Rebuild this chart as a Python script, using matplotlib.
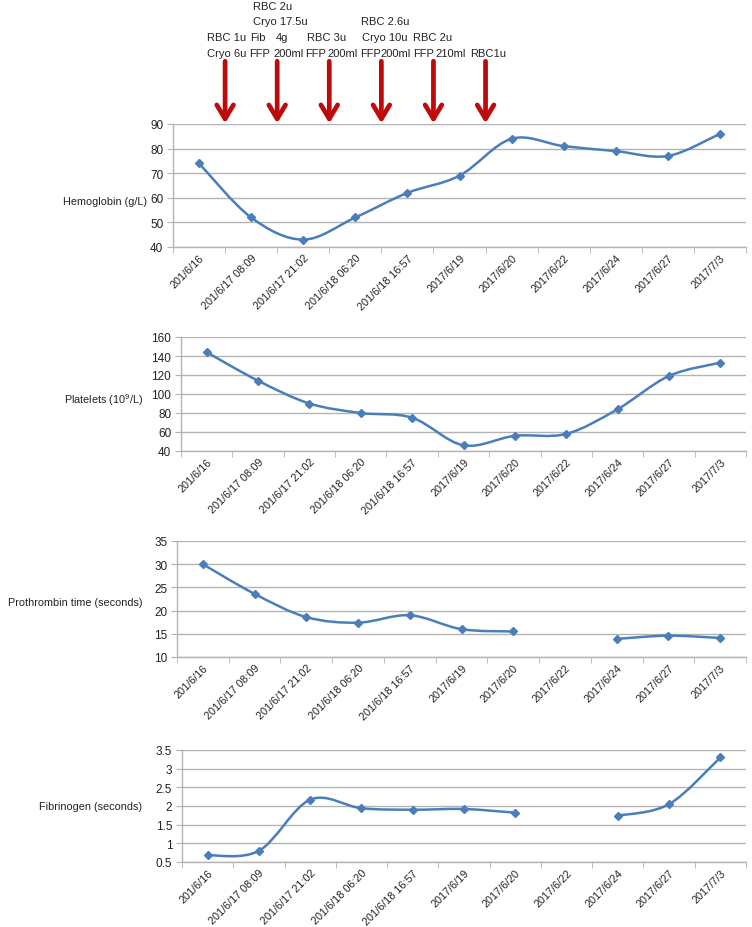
import numpy as np
import matplotlib
matplotlib.use('Agg')
import matplotlib.pyplot as plt
from matplotlib.path import Path
from matplotlib.patches import PathPatch

plt.rcParams['font.family'] = ['Liberation Sans', 'DejaVu Sans']
plt.rcParams['mathtext.fontset'] = 'custom'
plt.rcParams['mathtext.rm'] = 'Liberation Sans'
plt.rcParams['mathtext.it'] = 'Liberation Sans'

# category labels (as printed on the chart)
dates = ['201/6/16', '201/6/17 08:09', '201/6/17 21:02', '201/6/18 06:20',
         '201/6/18 16:57', '2017/6/19', '2017/6/20', '2017/6/22',
         '2017/6/24', '2017/6/27', '2017/7/3']

hemoglobin = [74, 52, 43, 52, 62, 69, 84, 81, 79, 77, 86]
platelets = [144, 114, 90, 80, 75, 46, 56, 58, 84, 119, 133]
prothrombin = [30.0, 23.6, 18.6, 17.4, 19.0, 16.0, 15.5, None, 13.9, 14.6, 14.1]
fibrinogen = [0.68, 0.8, 2.17, 1.94, 1.9, 1.92, 1.82, None, 1.74, 2.05, 3.3]

# transfusions given between consecutive measurements (index of gap)
transfusion_gaps = [0.5, 1.5, 2.5, 3.5, 4.5, 5.5]
# text pieces above the arrows: (text, left x px, centre y px)
transfusion_text = [
    ('RBC 2u', 253, 7),
    ('Cryo 17.5u', 253, 22), ('RBC 2.6u', 361, 22),
    ('RBC 1u', 207, 38), ('Fib', 250, 38), ('4g', 276, 38), ('RBC 3u', 307, 38),
    ('Cryo 10u', 362, 38), ('RBC 2u', 413, 38),
    ('Cryo 6u', 207, 54), ('FFP', 249, 54), ('200ml', 273, 54), ('FFP', 305, 54),
    ('200ml', 327, 54), ('FFP', 360, 54), ('200ml', 380, 54), ('FFP', 413, 54),
    ('210ml', 435, 54), ('RBC1u', 470, 54),
]

W, H = 752, 928
blue = '#4a7ebb'
grid = '#b3b3b3'
ink = '#222222'

fig = plt.figure(figsize=(W / 100, H / 100), dpi=100)


def px_axes(left, top, right, bottom):
    return fig.add_axes([left / W, 1 - bottom / H, (right - left) / W, (bottom - top) / H])


def smooth_line(ax, values):
    # Excel-like smoothed line, broken at missing values
    segs, cur = [], []
    for i, v in enumerate(values):
        if v is None:
            if cur:
                segs.append(cur)
            cur = []
        else:
            cur.append((i, v))
    if cur:
        segs.append(cur)
    for seg in segs:
        p = np.array(seg, dtype=float)
        if len(p) < 2:
            continue
        verts = [p[0]]
        codes = [Path.MOVETO]
        for i in range(len(p) - 1):
            p0 = p[i - 1] if i > 0 else p[i]
            p3 = p[i + 2] if i + 2 < len(p) else p[i + 1]
            c1 = p[i] + (p[i + 1] - p0) / 6
            c2 = p[i + 1] - (p3 - p[i]) / 6
            verts += [c1, c2, p[i + 1]]
            codes += [Path.CURVE4] * 3
        ax.add_patch(PathPatch(Path(verts, codes), fill=False, ec=blue, lw=1.8,
                               capstyle='round', joinstyle='round', zorder=3))
    xs = [i for i, v in enumerate(values) if v is not None]
    ys = [v for v in values if v is not None]
    ax.plot(xs, ys, ls='none', marker='D', ms=4.5, color=blue, zorder=4)


def style(ax, ylim, ticks, ticklabels, label, label_x, label_y):
    ax.set_xlim(-0.5, len(dates) - 0.5)
    ax.set_ylim(*ylim)
    ax.set_yticks(ticks)
    ax.set_yticklabels(ticklabels, fontsize=8.5, color=ink)
    ax.set_xticks(range(len(dates)))
    ax.set_xticklabels(dates, rotation=45, ha='right', rotation_mode='anchor',
                       fontsize=7.8, color=ink)
    ax.set_xticks(np.arange(-0.5, len(dates)), minor=True)
    ax.tick_params(axis='x', which='major', length=0, pad=4)
    ax.tick_params(axis='x', which='minor', length=4, color=grid, direction='out')
    ax.tick_params(axis='y', length=4, color=grid, pad=3)
    for s in ['top', 'right']:
        ax.spines[s].set_visible(False)
    for s in ['left', 'bottom']:
        ax.spines[s].set_color(grid)
        ax.spines[s].set_linewidth(1)
    ax.grid(axis='y', color=grid, lw=1)
    ax.set_axisbelow(True)
    fig.text(label_x / W, 1 - label_y / H, label, ha='right', va='center',
             fontsize=7.8, color=ink)


ax1 = px_axes(173, 125, 746, 248)
smooth_line(ax1, hemoglobin)
style(ax1, (40, 90), range(40, 91, 10), [str(t) for t in range(40, 91, 10)],
      'Hemoglobin (g/L)', 147, 202)

ax2 = px_axes(181, 338, 746, 452)
smooth_line(ax2, platelets)
style(ax2, (40, 160), range(40, 161, 20), [str(t) for t in range(40, 161, 20)],
      'Platelets (10$^9$/L)', 143, 400)

ax3 = px_axes(177, 542, 746, 658)
smooth_line(ax3, prothrombin)
style(ax3, (10, 35), range(10, 36, 5), [str(t) for t in range(10, 36, 5)],
      'Prothrombin time (seconds)', 142, 603)

ax4 = px_axes(182, 751, 746, 863)
smooth_line(ax4, fibrinogen)
fib_ticks = [0.5, 1, 1.5, 2, 2.5, 3, 3.5]
style(ax4, (0.5, 3.5), fib_ticks, ['0.5', '1', '1.5', '2', '2.5', '3', '3.5'],
      'Fibrinogen (seconds)', 142, 807)

# transfusion arrows
tr = ax1.get_xaxis_transform()
for g in transfusion_gaps:
    ax1.annotate('', xy=(g, 1.005), xycoords=tr, xytext=(g, 1.51), textcoords=tr,
                 arrowprops=dict(arrowstyle='->,head_length=1.0,head_width=0.6',
                                 color='#be0a0a', lw=3.4, shrinkA=0, shrinkB=0),
                 annotation_clip=False)

for txt, x, y in transfusion_text:
    fig.text(x / W, 1 - y / H, txt, ha='left', va='center', fontsize=8,
             color=ink)

fig.savefig('out.png', dpi=100)
